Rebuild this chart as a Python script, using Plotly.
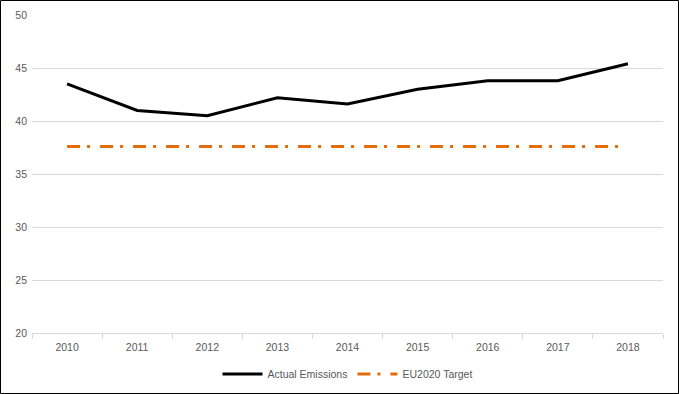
import plotly.graph_objects as go

years = ["2010", "2011", "2012", "2013", "2014", "2015", "2016", "2017", "2018"]
actual_emissions = [43.5, 41.0, 40.5, 42.2, 41.6, 43.0, 43.8, 43.8, 45.4]
eu2020_target = [37.6] * len(years)

W, H = 679, 394
L, R, T, B = 32, 16, 15, 61
pw, ph = W - L - R, H - T - B

fig = go.Figure()
fig.add_trace(go.Scatter(
    x=years, y=actual_emissions, name="Actual Emissions", mode="lines",
    line=dict(color="#000000", width=3),
))
fig.add_trace(go.Scatter(
    x=years, y=eu2020_target, name="EU2020 Target", mode="lines",
    line=dict(color="#E46C0A", width=3, dash="13px,7px,3px,10px"),
))

# outer frame around the whole chart
fig.add_shape(type="rect", xref="paper", yref="paper",
              x0=(0.5 - L) / pw, x1=(W - 0.5 - L) / pw,
              y0=(H - B - (H - 0.5)) / ph, y1=(H - B - 0.5) / ph,
              line=dict(color="#000000", width=1), layer="above")

font = dict(family="Liberation Sans, Arial, sans-serif", size=10.5, color="#595959")
fig.update_layout(
    width=W, height=H,
    margin=dict(l=L, r=R, t=T, b=B, autoexpand=False),
    paper_bgcolor="white", plot_bgcolor="white",
    font=font,
    showlegend=True,
    legend=dict(orientation="h", x=0.5, xanchor="center",
                yref="container", y=(H - 374) / H, yanchor="middle",
                font=font, itemwidth=40, traceorder="normal"),
    xaxis=dict(type="category", range=[-0.5, len(years) - 0.5], showgrid=False,
               showline=True, linecolor="#d9d9d9",
               linewidth=1, ticks="outside", tickson="boundaries", ticklen=5,
               tickcolor="#d9d9d9", tickfont=font, zeroline=False,
               ticklabelstandoff=4),
    yaxis=dict(range=[20, 50], dtick=5, showgrid=True, gridcolor="#d9d9d9",
               gridwidth=1, showline=False, zeroline=False, tickfont=font,
               ticks="", ticklabelstandoff=4),
)

fig.write_html("out.html", config={"displayModeBar": False},
               post_script="document.body.style.margin='0';")
